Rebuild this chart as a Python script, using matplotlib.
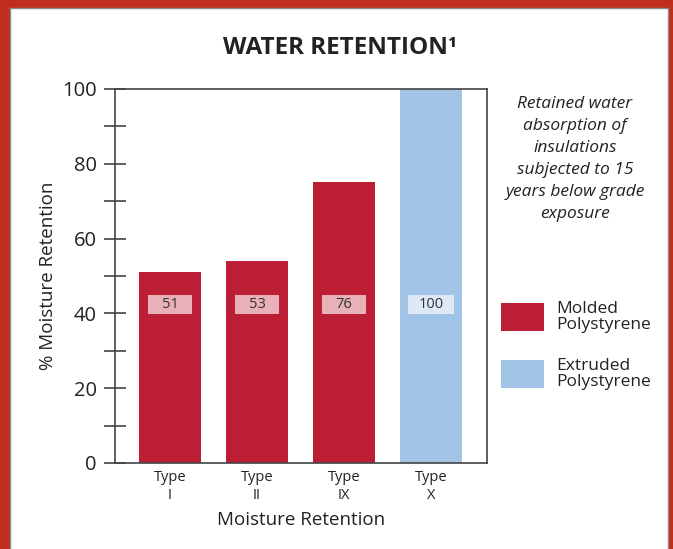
import matplotlib.pyplot as plt
from matplotlib.patches import Rectangle

plt.rcParams['font.family'] = ['Open Sans', 'DejaVu Sans']

# data
categories = ["Type\nI", "Type\nII", "Type\nIX", "Type\nX"]
heights = [51, 54, 75, 100]
value_labels = ["51", "53", "76", "100"]
groups = ["Molded", "Molded", "Molded", "Extruded"]
legend_names = ["Molded\nPolystyrene", "Extruded\nPolystyrene"]

bar_colors = {"Molded": "#bb1e35", "Extruded": "#a1c4e7"}
box_colors = {"Molded": "#e8b1b9", "Extruded": "#dde9f6"}

W, H = 673, 549
fig = plt.figure(figsize=(W / 100, H / 100), dpi=100)
fig.patch.set_facecolor("#c12e1c")

# white panel inside the red frame
fig.patches.append(Rectangle((10 / W, -0.1), (668 - 10) / W, 1.1 - 8 / H,
                             transform=fig.transFigure, facecolor="white",
                             edgecolor="#8a8a8a", linewidth=1.0, zorder=-10))

ax = fig.add_axes([115 / W, 1 - 463 / H, (487 - 115) / W, (463 - 89) / H])
ax.set_facecolor("white")

x = list(range(len(categories)))
ax.bar(x, heights, width=0.71, color=[bar_colors[g] for g in groups], zorder=2)

# value boxes
box_w = [0.5 if len(s) < 3 else 0.53 for s in value_labels]
ax.bar(x, 5.2, bottom=39.8, width=box_w, color=[box_colors[g] for g in groups], zorder=3)
for xi, s in zip(x, value_labels):
    ax.text(xi, 42.5, s, ha="center", va="center", fontsize=10.5, color="#333333", zorder=4)

ax.set_xlim(-0.632, 3.644)
ax.set_ylim(0, 100)
ax.set_xticks(x)
ax.set_xticklabels(categories, fontsize=10.5, color="#222222", linespacing=1.25)
ax.tick_params(axis="x", length=0, pad=5)
ax.set_yticks([0, 20, 40, 60, 80, 100])
ax.set_yticks([10, 30, 50, 70, 90], minor=True)
ax.tick_params(axis="y", which="both", direction="inout", length=16, width=1.2,
               color="#444444", labelsize=14.5, labelcolor="#222222", pad=5)

for sp in ax.spines.values():
    sp.set_color("#444444")
    sp.set_linewidth(1.2)

ax.set_ylabel("% Moisture Retention", fontsize=13.5, color="#222222", labelpad=4)
ax.set_xlabel("Moisture Retention", fontsize=13.5, color="#222222", labelpad=6)

fig.text(340 / W, 1 - 48 / H, "WATER RETENTION\u00b9", ha="center", va="center",
         fontsize=17.5, fontweight="bold", color="#222222")

fig.text(575 / W, 1 - 159 / H,
         "Retained water\nabsorption of\ninsulations\nsubjected to 15\nyears below grade\nexposure",
         ha="center", va="center", fontsize=12.5, style="italic", color="#222222",
         linespacing=1.5)

# legend
for i, (g, name) in enumerate(zip(["Molded", "Extruded"], legend_names)):
    top = [303, 360][i]
    fig.patches.append(Rectangle((501 / W, 1 - (top + 28) / H), 43 / W, 28 / H,
                                 transform=fig.transFigure, facecolor=bar_colors[g],
                                 edgecolor="none"))
    fig.text(556 / W, 1 - (top + 14) / H, name, ha="left", va="center",
             fontsize=12.5, color="#222222", linespacing=0.95)

fig.savefig("out.png", dpi=100, facecolor=fig.get_facecolor())
